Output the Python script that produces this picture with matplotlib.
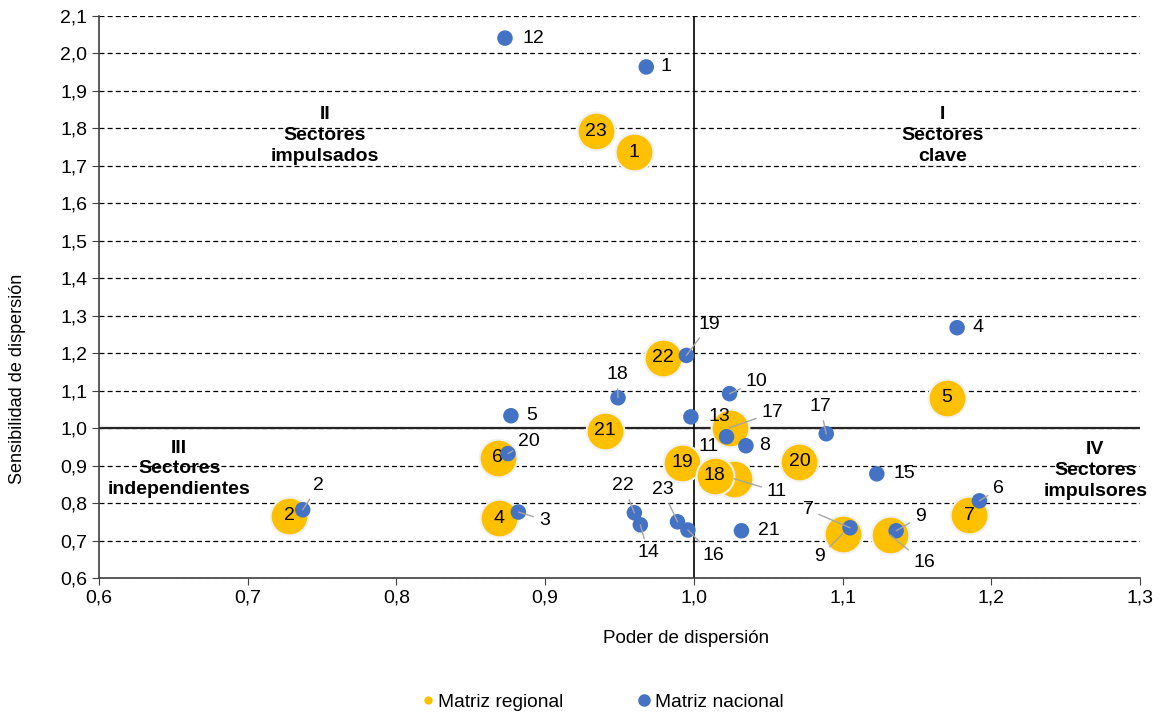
import matplotlib
matplotlib.use("Agg")
import matplotlib.pyplot as plt
from matplotlib.lines import Line2D
from matplotlib.ticker import FuncFormatter, MultipleLocator

plt.rcParams["font.family"] = ["Liberation Sans", "DejaVu Sans"]

# Matriz nacional (blue points)
nac_ids = [12, 1, 4, 19, 18, 10, 5, 13, 17, 11, 8, 20, 15, 6, 2, 3, 22, 14, 23, 16, 21, 7, 9]
nac_x = [0.873, 0.968, 1.177, 0.995, 0.949, 1.024, 0.877, 0.998, 1.089, 1.022, 1.035, 0.875,
         1.123, 1.192, 0.737, 0.882, 0.960, 0.964, 0.989, 0.996, 1.032, 1.105, 1.136]
nac_y = [2.041, 1.964, 1.268, 1.194, 1.081, 1.092, 1.033, 1.030, 0.985, 0.977, 0.953, 0.932,
         0.878, 0.806, 0.782, 0.776, 0.774, 0.742, 0.750, 0.728, 0.726, 0.734, 0.726]

# Matriz regional (yellow bubbles)
reg_ids = [23, 1, 22, 5, 21, 17, 6, 20, 19, 11, 18, 2, 4, 7, 9, 16]
reg_x = [0.934, 0.960, 0.979, 1.170, 0.940, 1.024, 0.868, 1.071, 0.992, 1.027, 1.014,
         0.728, 0.869, 1.185, 1.100, 1.132]
reg_y = [1.793, 1.736, 1.188, 1.081, 0.993, 1.001, 0.921, 0.910, 0.908, 0.865, 0.873,
         0.766, 0.760, 0.768, 0.718, 0.715]

# label offsets in pixels (dx, dy up), and whether a leader line is drawn
nac_offsets = {
    12: (28, 0, False), 1: (20, 0, False), 4: (21, 0, False), 19: (23, 31, True),
    18: (-1, 23, True), 10: (27, 12, True), 5: (21, 0, False), 13: (28, 0, False),
    17: (-6, 27, True), 11: (-18, -10, False), 8: (19, 0, False), 20: (21, 12, True),
    15: (28, 0, False), 6: (19, 12, True), 2: (16, 24, True), 3: (26, -8, True),
    22: (-11, 27, True), 14: (8, -28, True), 23: (-15, 32, True), 16: (25, -25, True),
    21: (27, 0, False), 7: (-42, 18, True), 9: (24, 14, True),
}
reg_offsets = {17: (43, 15), 11: (43, -13), 9: (-23, -23), 16: (34, -28)}

YELLOW = "#FFC000"
BLUE = "#4472C4"
LEADER = "#a6a6a6"
FS = 14

fig = plt.figure(figsize=(11.6, 7.14), dpi=100)
ax = fig.add_axes([0.0853, 0.1905, 0.8975, 0.7871])

ax.set_xlim(0.6, 1.3)
ax.set_ylim(0.6, 2.1)
ax.xaxis.set_major_locator(MultipleLocator(0.1))
ax.yaxis.set_major_locator(MultipleLocator(0.1))
comma = FuncFormatter(lambda v, p: f"{v:.1f}".replace(".", ","))
ax.xaxis.set_major_formatter(comma)
ax.yaxis.set_major_formatter(comma)
ax.tick_params(labelsize=14, length=5, color="#404040", direction="out")

for s in ("top", "right"):
    ax.spines[s].set_visible(False)
for s in ("left", "bottom"):
    ax.spines[s].set_color("#404040")
    ax.spines[s].set_linewidth(1.2)

ax.yaxis.grid(True, color="black", linestyle=(0, (4, 2.5)), linewidth=0.9)
ax.set_axisbelow(True)
ax.axhline(1.0, color="#262626", linewidth=1.6, zorder=1)
ax.axvline(1.0, color="black", linewidth=1.2, zorder=1)

ax.scatter(reg_x, reg_y, s=740, color=YELLOW, edgecolors="#f2f2f2", linewidths=1.5, zorder=3)
ax.scatter(nac_x, nac_y, s=125, color=BLUE, edgecolors="none", zorder=5)

for i, x, y in zip(reg_ids, reg_x, reg_y):
    if i in reg_offsets:
        dx, dy = reg_offsets[i]
        ax.annotate(str(i), (x, y), xytext=(dx, dy), textcoords="offset pixels",
                    ha="center", va="center", fontsize=FS, zorder=6,
                    arrowprops=dict(arrowstyle="-", color=LEADER, lw=1, shrinkA=2, shrinkB=0))
    else:
        ax.text(x, y, str(i), ha="center", va="center", fontsize=FS, zorder=4)

for i, x, y in zip(nac_ids, nac_x, nac_y):
    dx, dy, leader = nac_offsets[i]
    props = dict(arrowstyle="-", color=LEADER, lw=1, shrinkA=2, shrinkB=0) if leader else None
    ax.annotate(str(i), (x, y), xytext=(dx, dy), textcoords="offset pixels",
                ha="center", va="center", fontsize=FS, zorder=6, arrowprops=props)

quad = dict(ha="center", va="center", fontsize=14, fontweight="bold", linespacing=1.3)
ax.text(0.752, 1.782, "II\nSectores\nimpulsados", **quad)
ax.text(1.167, 1.782, "I\nSectores\nclave", **quad)
ax.text(0.654, 0.891, "III\nSectores\nindependientes", **quad)
ax.text(1.270, 0.886, "IV\nSectores\nimpulsores", **quad)

ax.set_xlabel("Poder de dispersión", fontsize=13.5)
ax.xaxis.set_label_coords(0.564, -0.0925)
ax.set_ylabel("Sensibilidad de dispersión", fontsize=13)
ax.yaxis.set_label_coords(-0.070, 0.354)

handles = [
    Line2D([], [], marker="o", linestyle="none", color=YELLOW, markersize=5),
    Line2D([], [], marker="o", linestyle="none", color=BLUE, markersize=8),
]
fig.legend(handles, ["Matriz regional", "Matriz nacional"], loc="lower center",
           bbox_to_anchor=(0.518, -0.02), ncol=2, frameon=False, fontsize=13.8,
           handletextpad=0.05, columnspacing=3.7, handlelength=1)

fig.savefig("out.png", dpi=100)
